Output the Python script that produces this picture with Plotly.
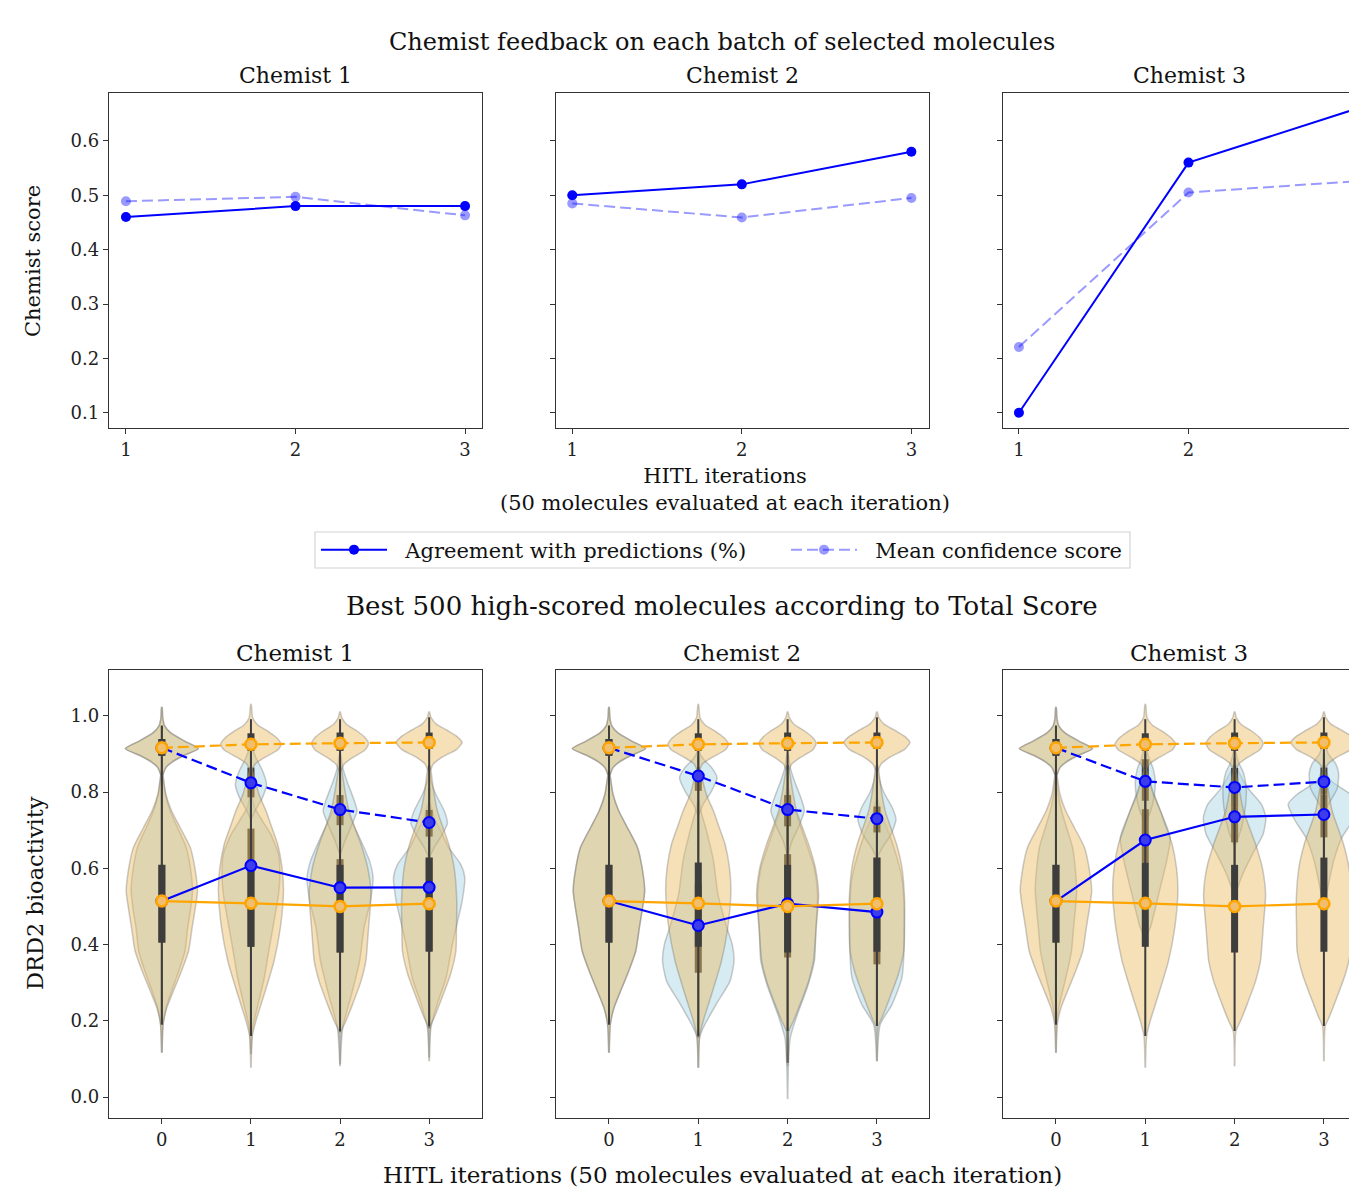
import plotly.graph_objects as go

# ---------------- data: top row (chemist feedback) ----------------
iters_top = [1, 2, 3]
agree_c1 = [0.46, 0.48, 0.48]
agree_c2 = [0.50, 0.52, 0.58]
agree_c3 = [0.10, 0.56, 0.66]
conf_c1 = [0.489, 0.497, 0.463]
conf_c2 = [0.485, 0.459, 0.495]
conf_c3 = [0.221, 0.505, 0.526]
top_yticks = [0.1, 0.2, 0.3, 0.4, 0.5, 0.6]

# ---------------- data: bottom row (DRD2 bioactivity violins) ----------------
iters_bot = [0, 1, 2, 3]
bot_yticks = [0.0, 0.2, 0.4, 0.6, 0.8, 1.0]

# means (lines)
orange_up_mean = [0.916, 0.925, 0.928, 0.930]
orange_low_mean = [0.514, 0.508, 0.500, 0.507]
blue_up_mean_c1 = [0.916, 0.824, 0.754, 0.720]
blue_low_mean_c1 = [0.514, 0.607, 0.549, 0.550]
blue_up_mean_c2 = [0.916, 0.842, 0.754, 0.730]
blue_low_mean_c2 = [0.514, 0.450, 0.507, 0.485]
blue_up_mean_c3 = [0.916, 0.828, 0.812, 0.827]
blue_low_mean_c3 = [0.514, 0.674, 0.735, 0.741]

# density profiles (value levels, half widths) per iteration
orange_up_y = [
    [0.845, 0.864, 0.878, 0.895, 0.914, 0.933, 0.955, 0.974, 0.995, 1.022],
    [0.855, 0.873, 0.890, 0.910, 0.925, 0.940, 0.958, 0.975, 0.995, 1.030],
    [0.855, 0.873, 0.890, 0.910, 0.927, 0.943, 0.960, 0.977, 0.995, 1.010],
    [0.855, 0.873, 0.892, 0.912, 0.930, 0.946, 0.962, 0.978, 0.996, 1.010],
]
orange_up_w = [
    [0.012, 0.045, 0.11, 0.24, 0.41, 0.26, 0.10, 0.03, 0.01, 0.003],
    [0.012, 0.045, 0.15, 0.30, 0.34, 0.30, 0.20, 0.08, 0.02, 0.003],
    [0.012, 0.045, 0.14, 0.28, 0.32, 0.28, 0.19, 0.075, 0.02, 0.003],
    [0.012, 0.045, 0.15, 0.31, 0.37, 0.31, 0.20, 0.08, 0.02, 0.003],
]
orange_low_y = [
    [0.116, 0.19, 0.234, 0.278, 0.33, 0.383, 0.444, 0.488, 0.541, 0.602, 0.654, 0.707, 0.75, 0.794, 0.84, 0.86],
    [0.077, 0.16, 0.20, 0.27, 0.357, 0.444, 0.54, 0.60, 0.663, 0.71, 0.75, 0.794, 0.838, 0.865],
    [0.081, 0.173, 0.20, 0.243, 0.304, 0.357, 0.40, 0.444, 0.532, 0.602, 0.663, 0.75, 0.803, 0.856, 0.87],
    [0.094, 0.186, 0.208, 0.252, 0.322, 0.383, 0.444, 0.514, 0.602, 0.663, 0.75, 0.803, 0.856, 0.87],
]
orange_low_w = [
    [0.003, 0.015, 0.056, 0.13, 0.22, 0.30, 0.34, 0.37, 0.40, 0.37, 0.32, 0.205, 0.11, 0.045, 0.015, 0.005],
    [0.003, 0.015, 0.056, 0.15, 0.26, 0.33, 0.365, 0.35, 0.30, 0.23, 0.17, 0.09, 0.04, 0.008],
    [0.003, 0.015, 0.067, 0.14, 0.235, 0.29, 0.306, 0.32, 0.347, 0.31, 0.235, 0.10, 0.056, 0.02, 0.006],
    [0.003, 0.015, 0.056, 0.13, 0.24, 0.30, 0.306, 0.31, 0.28, 0.22, 0.093, 0.05, 0.02, 0.006],
]
orange_up_box = [[0.895, 0.939], [0.908, 0.954], [0.908, 0.956], [0.913, 0.956]]
orange_up_whisk = [[0.86, 0.974], [0.86, 0.991], [0.86, 0.991], [0.86, 0.996]]
orange_low_box = [[0.405, 0.609], [0.394, 0.615], [0.379, 0.609], [0.381, 0.628]]
orange_low_whisk = [[0.19, 0.86], [0.16, 0.865], [0.173, 0.87], [0.186, 0.87]]

# chemist 1 (blue)
blue_up_y_c1 = [
    orange_up_y[0],
    [0.73, 0.75, 0.786, 0.82, 0.856, 0.89, 0.92, 0.95],
    [0.64, 0.672, 0.707, 0.751, 0.777, 0.83, 0.864, 0.90],
    [0.63, 0.654, 0.69, 0.718, 0.75, 0.794, 0.83, 0.86],
]
blue_up_w_c1 = [
    orange_up_w[0],
    [0.005, 0.045, 0.13, 0.175, 0.13, 0.056, 0.015, 0.003],
    [0.01, 0.056, 0.12, 0.19, 0.16, 0.075, 0.03, 0.005],
    [0.008, 0.056, 0.15, 0.205, 0.17, 0.075, 0.02, 0.004],
]
blue_low_y_c1 = [
    orange_low_y[0],
    [0.112, 0.182, 0.243, 0.313, 0.383, 0.462, 0.532, 0.584, 0.637, 0.69, 0.724, 0.76, 0.79],
    [0.086, 0.182, 0.27, 0.357, 0.444, 0.514, 0.576, 0.62, 0.672, 0.724, 0.76, 0.79],
    [0.103, 0.182, 0.243, 0.313, 0.40, 0.462, 0.514, 0.576, 0.61, 0.654, 0.698, 0.733, 0.77],
]
blue_low_w_c1 = [
    [0.003, 0.013, 0.048, 0.11, 0.19, 0.26, 0.29, 0.32, 0.345, 0.32, 0.275, 0.175, 0.095, 0.04, 0.013, 0.004],
    [0.003, 0.02, 0.08, 0.15, 0.20, 0.26, 0.31, 0.325, 0.31, 0.22, 0.13, 0.04, 0.008],
    [0.003, 0.03, 0.13, 0.22, 0.27, 0.34, 0.37, 0.33, 0.235, 0.13, 0.056, 0.01],
    [0.003, 0.02, 0.09, 0.19, 0.26, 0.32, 0.37, 0.40, 0.355, 0.22, 0.13, 0.056, 0.01],
]
blue_up_box_c1 = [[0.895, 0.939], [0.786, 0.864], [0.713, 0.792], [0.683, 0.753]]
blue_up_whisk_c1 = [[0.86, 0.974], [0.745, 0.90], [0.66, 0.86], [0.64, 0.81]]
blue_low_box_c1 = [[0.405, 0.609], [0.394, 0.704], [0.379, 0.624], [0.383, 0.628]]
blue_low_whisk_c1 = [[0.19, 0.86], [0.16, 0.76], [0.17, 0.77], [0.18, 0.76]]

# chemist 2 (blue)
blue_up_y_c2 = [
    orange_up_y[0],
    [0.74, 0.768, 0.803, 0.838, 0.864, 0.882, 0.90, 0.93],
    [0.64, 0.672, 0.707, 0.751, 0.777, 0.83, 0.864, 0.90],
    [0.63, 0.654, 0.69, 0.728, 0.76, 0.80, 0.84, 0.87],
]
blue_up_w_c2 = [
    orange_up_w[0],
    [0.005, 0.056, 0.15, 0.21, 0.15, 0.075, 0.02, 0.004],
    [0.01, 0.05, 0.12, 0.187, 0.16, 0.075, 0.03, 0.005],
    [0.008, 0.06, 0.16, 0.213, 0.17, 0.075, 0.02, 0.004],
]
blue_low_y_c2 = [
    orange_low_y[0],
    [0.077, 0.156, 0.182, 0.243, 0.304, 0.357, 0.40, 0.444, 0.532, 0.62, 0.70, 0.75, 0.78],
    [-0.006, 0.09, 0.156, 0.217, 0.287, 0.357, 0.444, 0.532, 0.60, 0.672, 0.733, 0.777, 0.81],
    [0.094, 0.19, 0.243, 0.313, 0.40, 0.488, 0.576, 0.654, 0.70, 0.74, 0.78],
]
blue_low_w_c2 = [
    orange_low_w[0],
    [0.003, 0.015, 0.056, 0.20, 0.355, 0.40, 0.38, 0.32, 0.22, 0.17, 0.09, 0.03, 0.005],
    [0.002, 0.01, 0.03, 0.11, 0.22, 0.30, 0.317, 0.336, 0.30, 0.20, 0.11, 0.04, 0.008],
    [0.003, 0.037, 0.17, 0.28, 0.306, 0.306, 0.28, 0.19, 0.12, 0.05, 0.008],
]
blue_up_box_c2 = [[0.895, 0.939], [0.803, 0.856], [0.710, 0.792], [0.694, 0.762]]
blue_up_whisk_c2 = [[0.86, 0.974], [0.75, 0.895], [0.66, 0.86], [0.64, 0.83]]
blue_low_box_c2 = [[0.405, 0.609], [0.326, 0.56], [0.366, 0.637], [0.348, 0.628]]
blue_low_whisk_c2 = [[0.19, 0.86], [0.156, 0.75], [0.09, 0.78], [0.19, 0.76]]

# chemist 3 (blue)
blue_up_y_c3 = [
    orange_up_y[0],
    [0.72, 0.75, 0.79, 0.825, 0.86, 0.89, 0.92],
    [0.66, 0.70, 0.76, 0.81, 0.85, 0.88, 0.91],
    [0.75, 0.78, 0.81, 0.85, 0.875, 0.90, 0.93],
]
blue_up_w_c3 = [
    orange_up_w[0],
    [0.005, 0.06, 0.10, 0.112, 0.09, 0.04, 0.005],
    [0.005, 0.07, 0.12, 0.13, 0.10, 0.04, 0.005],
    [0.005, 0.08, 0.15, 0.164, 0.13, 0.05, 0.005],
]
blue_low_y_c3 = [
    orange_low_y[0],
    [0.42, 0.444, 0.532, 0.62, 0.68, 0.75, 0.81, 0.85],
    [0.52, 0.55, 0.584, 0.637, 0.69, 0.733, 0.768, 0.81, 0.856, 0.88],
    [0.50, 0.55, 0.62, 0.68, 0.724, 0.768, 0.794, 0.83, 0.86, 0.88],
]
blue_low_w_c3 = [
    [0.002, 0.009, 0.032, 0.075, 0.128, 0.174, 0.197, 0.215, 0.232, 0.215, 0.186, 0.119, 0.064, 0.026, 0.009, 0.003],
    [0.005, 0.056, 0.15, 0.24, 0.28, 0.17, 0.075, 0.01],
    [0.005, 0.037, 0.09, 0.20, 0.32, 0.35, 0.30, 0.15, 0.04, 0.005],
    [0.005, 0.045, 0.11, 0.20, 0.32, 0.40, 0.30, 0.075, 0.02, 0.004],
]
blue_up_box_c3 = [[0.895, 0.939], [0.777, 0.886], [0.759, 0.863], [0.794, 0.864]]
blue_up_whisk_c3 = [[0.86, 0.974], [0.73, 0.90], [0.67, 0.89], [0.76, 0.90]]
blue_low_box_c3 = [[0.405, 0.609], [0.615, 0.755], [0.668, 0.76], [0.681, 0.794]]
blue_low_whisk_c3 = [[0.19, 0.86], [0.44, 0.84], [0.55, 0.86], [0.55, 0.85]]

chemists = ["Chemist 1", "Chemist 2", "Chemist 3"]

# ---------------- styling ----------------
FONT = "DejaVu Serif"
W, H = 1357, 1196
OFF = 8  # page body margin of the browser
BLUE = "#0000ff"
ORANGE = "#ffa500"
ORANGE_FILL = "rgba(235,186,95,0.45)"
BLUE_FILL = "rgba(173,216,230,0.5)"
EDGE = "rgba(110,110,110,0.35)"
BOXC = "#3d3d3d"
DASH = "11px,5px"
NB = "\u00a0\u00a0"

fig = go.Figure()

def px_x(p):
    return (p - OFF) / W

def px_y(p):
    return 1 - (p - OFF) / H

top_dom_y = [px_y(428), px_y(93)]
bot_dom_y = [px_y(1118), px_y(670)]
col_dom_x = [[px_x(109), px_x(482)], [px_x(556), px_x(929)], [px_x(1003), 1.0]]
top_xr = [[0.9, 3.1], [0.904, 3.104], [0.906, 3.041]]
bot_xr = [[-0.593, 3.593], [-0.593, 3.583], [-0.593, 3.46]]

# ---------------- top row traces ----------------
agrees = [agree_c1, agree_c2, agree_c3]
confs = [conf_c1, conf_c2, conf_c3]
for i in range(3):
    ax = "" if i == 0 else str(i + 1)
    fig.add_trace(go.Scatter(
        x=iters_top, y=confs[i], mode="lines+markers",
        name=NB + "Mean confidence score", showlegend=(i == 0), legend="legend2",
        line=dict(color="rgba(0,0,255,0.4)", width=2, dash=DASH),
        marker=dict(color="rgba(0,0,255,0.4)", size=10),
        xaxis="x" + ax, yaxis="y" + ax, hoverinfo="skip"))
    fig.add_trace(go.Scatter(
        x=iters_top, y=agrees[i], mode="lines+markers",
        name=NB + "Agreement with predictions (%)", showlegend=(i == 0), legend="legend",
        line=dict(color=BLUE, width=2),
        marker=dict(color=BLUE, size=10),
        xaxis="x" + ax, yaxis="y" + ax, hoverinfo="skip"))

# ---------------- bottom row traces ----------------
def add_violin(pos, ys, ws, fill, ax):
    xs = [pos + w for w in ws] + [pos - w for w in reversed(ws)]
    yy = list(ys) + list(reversed(ys))
    fig.add_trace(go.Scatter(
        x=xs, y=yy, mode="lines", fill="toself", fillcolor=fill,
        line=dict(color=EDGE, width=1.5, shape="spline", smoothing=0.6),
        showlegend=False, hoverinfo="skip", xaxis="x" + ax, yaxis="y" + ax))

def add_box(pos, box, whisk, ax):
    fig.add_trace(go.Scatter(
        x=[pos, pos], y=whisk, mode="lines", line=dict(color=BOXC, width=2),
        showlegend=False, hoverinfo="skip", xaxis="x" + ax, yaxis="y" + ax))
    fig.add_trace(go.Scatter(
        x=[pos, pos], y=box, mode="lines", line=dict(color=BOXC, width=7),
        showlegend=False, hoverinfo="skip", xaxis="x" + ax, yaxis="y" + ax))

blue_sets = [
    (blue_up_y_c1, blue_up_w_c1, blue_low_y_c1, blue_low_w_c1, blue_up_box_c1, blue_up_whisk_c1,
     blue_low_box_c1, blue_low_whisk_c1, blue_up_mean_c1, blue_low_mean_c1),
    (blue_up_y_c2, blue_up_w_c2, blue_low_y_c2, blue_low_w_c2, blue_up_box_c2, blue_up_whisk_c2,
     blue_low_box_c2, blue_low_whisk_c2, blue_up_mean_c2, blue_low_mean_c2),
    (blue_up_y_c3, blue_up_w_c3, blue_low_y_c3, blue_low_w_c3, blue_up_box_c3, blue_up_whisk_c3,
     blue_low_box_c3, blue_low_whisk_c3, blue_up_mean_c3, blue_low_mean_c3),
]

for c in range(3):
    ax = str(c + 4)
    (buy, buw, bly, blw, bub, buwk, blb, blwk, bum, blm) = blue_sets[c]
    for k, pos in enumerate(iters_bot):
        add_violin(pos, bly[k], blw[k], BLUE_FILL, ax)
        add_violin(pos, buy[k], buw[k], BLUE_FILL, ax)
    for k, pos in enumerate(iters_bot):
        add_box(pos, blb[k], blwk[k], ax)
        add_box(pos, bub[k], buwk[k], ax)
    for k, pos in enumerate(iters_bot):
        add_violin(pos, orange_low_y[k], orange_low_w[k], ORANGE_FILL, ax)
        add_violin(pos, orange_up_y[k], orange_up_w[k], ORANGE_FILL, ax)
    for k, pos in enumerate(iters_bot):
        add_box(pos, orange_low_box[k], orange_low_whisk[k], ax)
        add_box(pos, orange_up_box[k], orange_up_whisk[k], ax)
    for vals, dash in ((bum, DASH), (blm, "solid")):
        fig.add_trace(go.Scatter(
            x=iters_bot, y=vals, mode="lines+markers",
            line=dict(color=BLUE, width=2.2, dash=dash),
            marker=dict(color="rgb(60,60,235)", size=11, line=dict(color=BLUE, width=2)),
            showlegend=False, hoverinfo="skip", xaxis="x" + ax, yaxis="y" + ax))
    for vals, dash in ((orange_up_mean, DASH), (orange_low_mean, "solid")):
        fig.add_trace(go.Scatter(
            x=iters_bot, y=vals, mode="lines+markers",
            line=dict(color=ORANGE, width=2.2, dash=dash),
            marker=dict(color="rgb(240,190,110)", size=11, line=dict(color=ORANGE, width=2.5)),
            showlegend=False, hoverinfo="skip", xaxis="x" + ax, yaxis="y" + ax))

# ---------------- axes ----------------
tickfont = dict(family=FONT, size=18, color="#222")
base = dict(showline=True, linecolor="#333", linewidth=1.3, ticks="outside", ticklen=5,
            tickwidth=1.2, tickcolor="#333", showgrid=False, zeroline=False, tickfont=tickfont)

layout_axes = {}
for i in range(3):
    n = "" if i == 0 else str(i + 1)
    layout_axes["xaxis" + n] = dict(base, domain=col_dom_x[i], range=top_xr[i], anchor="y" + n,
                                    tickvals=iters_top, ticktext=[str(v) for v in iters_top],
                                    mirror=True)
    layout_axes["yaxis" + n] = dict(base, domain=top_dom_y, range=[0.072, 0.688], anchor="x" + n,
                                    tickvals=top_yticks, ticktext=["%.1f" % v for v in top_yticks],
                                    showticklabels=(i == 0), mirror=(i < 2))
    m = str(i + 4)
    layout_axes["xaxis" + m] = dict(base, domain=col_dom_x[i], range=bot_xr[i], anchor="y" + m,
                                    tickvals=iters_bot, ticktext=[str(v) for v in iters_bot],
                                    mirror=True)
    layout_axes["yaxis" + m] = dict(base, domain=bot_dom_y, range=[-0.055, 1.12], anchor="x" + m,
                                    tickvals=bot_yticks, ticktext=["%.1f" % v for v in bot_yticks],
                                    showticklabels=(i == 0), mirror=(i < 2))

# ---------------- annotations ----------------
def ann(text, x, y, size, angle=0):
    return dict(text=text, x=px_x(x), y=px_y(y), xref="paper", yref="paper",
                showarrow=False, xanchor="center", yanchor="middle", textangle=angle,
                font=dict(family=FONT, size=size, color="#111"))

annotations = [
    ann("Chemist feedback on each batch of selected molecules", 722, 42, 24),
    ann("Best 500 high-scored molecules according to Total Score", 722, 606, 26),
    ann("HITL iterations<br>(50 molecules evaluated at each iteration)", 725, 489, 21),
    ann("HITL iterations (50 molecules evaluated at each iteration)", 722, 1175, 23),
    ann("Chemist score", 33, 261, 21, -90),
    ann("DRD2 bioactivity", 35, 893, 22.5, -90),
]
top_title_x = [295, 742, 1189]
for i, name in enumerate(chemists):
    annotations.append(ann(name, top_title_x[i], 76, 22))
    annotations.append(ann(name, top_title_x[i], 653, 23))

legend_common = dict(orientation="h", yanchor="middle", xanchor="left", y=px_y(550),
                     borderwidth=0, bgcolor="rgba(0,0,0,0)", itemwidth=66,
                     font=dict(family=FONT, size=21, color="#111"))

fig.update_layout(
    width=W, height=H, margin=dict(l=0, r=0, t=0, b=0, pad=0),
    paper_bgcolor="white", plot_bgcolor="white",
    showlegend=True,
    legend=dict(legend_common, x=px_x(316)),
    legend2=dict(legend_common, x=px_x(786)),
    shapes=[dict(type="rect", xref="paper", yref="paper",
                 x0=px_x(315), x1=px_x(1130), y0=px_y(568), y1=px_y(532),
                 line=dict(color="#d4d4d4", width=1.2), fillcolor="white", layer="below")],
    annotations=annotations,
    **layout_axes,
)

fig.write_html("out.html")
